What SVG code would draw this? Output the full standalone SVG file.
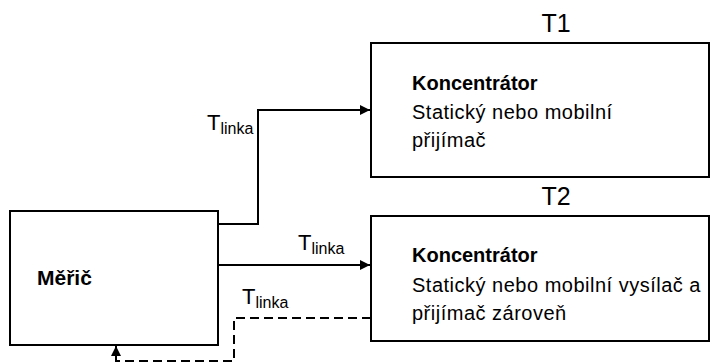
<svg xmlns="http://www.w3.org/2000/svg" width="711" height="362" viewBox="0 0 711 362">
<defs>
<style>
.box{fill:#fff;stroke:#000;stroke-width:2}
.ln{fill:none;stroke:#000;stroke-width:2}
.dash{fill:none;stroke:#000;stroke-width:2;stroke-dasharray:9 5}
.t{font-family:"Liberation Sans",Arial,sans-serif;fill:#000}
.b{font-weight:bold}
.body{font-size:20px;letter-spacing:0.5px}
</style>
<marker id="arr" viewBox="0 0 10 10" refX="10" refY="5" markerWidth="10" markerHeight="11" markerUnits="userSpaceOnUse" orient="auto">
<path d="M0,0 L10,5 L0,10 Z" fill="#000"/>
</marker>
</defs>
<rect width="711" height="362" fill="#fff"/>
<g id="connectors">
<polyline class="ln" points="218,224 258,224 258,110 370,110" marker-end="url(#arr)"/>
<line class="ln" x1="218" y1="265" x2="370" y2="265" marker-end="url(#arr)"/>
<polyline class="dash" points="371,318 234,318 234,361 116,361"/>
<line class="ln" x1="116" y1="362" x2="116" y2="346" marker-end="url(#arr)"/>
<text class="t" x="207" y="130" font-size="22">T<tspan font-size="16" dy="4">linka</tspan></text>
<text class="t" x="298" y="250" font-size="22">T<tspan font-size="16" dy="4">linka</tspan></text>
<text class="t" x="242" y="304" font-size="22">T<tspan font-size="16" dy="4">linka</tspan></text>
</g>
<g id="meric">
<rect class="box" x="10" y="211" width="208" height="134"/>
<text class="t b" x="37" y="285" font-size="21">Měřič</text>
</g>
<g id="t1">
<rect class="box" x="371" y="43" width="338" height="134"/>
<text class="t" x="556" y="32" font-size="25" text-anchor="middle">T1</text>
<text class="t b" x="412" y="90" font-size="20">Koncentrátor</text>
<text class="t body" x="412" y="119">Statický nebo mobilní</text>
<text class="t body" x="412" y="147">přijímač</text>
</g>
<g id="t2">
<rect class="box" x="371" y="216" width="338" height="125"/>
<text class="t" x="556" y="205" font-size="25" text-anchor="middle">T2</text>
<text class="t b" x="412" y="262" font-size="20">Koncentrátor</text>
<text class="t body" x="412" y="292">Statický nebo mobilní vysílač a</text>
<text class="t body" x="412" y="320">přijímač zároveň</text>
</g>
</svg>
